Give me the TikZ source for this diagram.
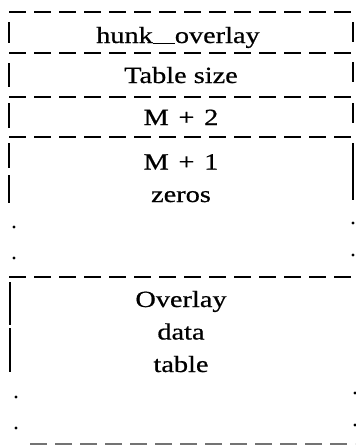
\documentclass[tikz,border=0pt]{standalone}
\usepackage{fontspec}
\setmainfont{Liberation Serif}[FakeStretch=1.22,FakeBold=0.7]
\newcommand{\plussp}{\hspace{0.42em}+\hspace{0.42em}}
\begin{document}
\begin{tikzpicture}[x=1pt,y=-1pt,
  hdash/.style={line width=1.6pt,dash pattern=on 17pt off 8pt},
  vbar/.style={line width=1.5pt},
  label/.style={font=\fontsize{23.2}{32.5}\selectfont,align=center,inner sep=0pt,anchor=base}]
\useasboundingbox (0,0) rectangle (356,445);
% horizontal dashed separators
\draw[hdash] (9,12) -- (355,12);
\draw[hdash] (9,53) -- (355,53);
\draw[hdash] (9,97) -- (355,97);
\draw[hdash] (9,137) -- (355,137);
\draw[hdash] (9,277) -- (355,277);
\draw[hdash,black!55] (30,444) -- (355,444);
% left vertical segments
\draw[vbar] (9,22) -- (9,43);
\draw[vbar] (9,63) -- (9,87);
\draw[vbar] (9,103) -- (9,128);
\draw[vbar] (9,143) -- (9,168);
\draw[vbar] (9,175) -- (9,203);
\draw[vbar] (10,282) -- (10,325);
\draw[vbar] (10,328) -- (10,372);
% right vertical segments
\draw[vbar] (353,22) -- (353,42);
\draw[vbar] (353,62) -- (353,82);
\draw[vbar] (353,103) -- (353,123);
\draw[vbar] (353,143) -- (353,200);
% dots
\foreach \p in {(14,227),(14,258),(16,397),(16,428),(353,223),(353,255),(355,393),(355,425)}
  \fill \p circle (1.7);
% texts
\node[label] (hunk) at (178,43) {hunk\rule[-1pt]{22pt}{1pt}overlay};
\node[label] (size) at (181,83) {Table size};
\node[label] (m2) at (181,125) {M\plussp 2};
\node[label] (m1) at (181,202) {M\plussp 1\\zeros};
\node[label] (ovl) at (181,372) {Overlay\\data\\table};
\end{tikzpicture}
\end{document}
